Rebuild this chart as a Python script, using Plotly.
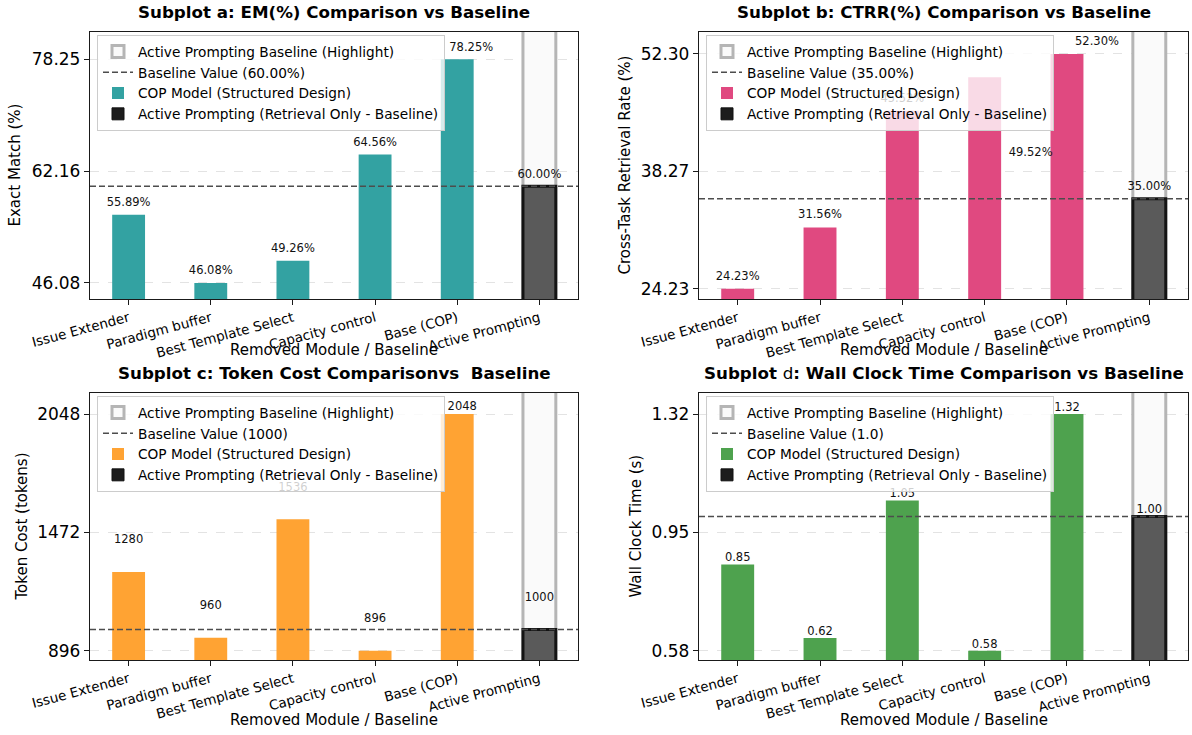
import plotly.graph_objects as go

# ---- data -------------------------------------------------------------
categories = ["Issue Extender", "Paradigm buffer", "Best Template Select",
              "Capacity control", "Base (COP)", "Active Prompting"]

em_values = [55.89, 46.08, 49.26, 64.56, 78.25]
em_baseline = 60.00

ctrr_values = [24.23, 31.56, 45.52, 49.52, 52.30]
ctrr_baseline = 35.00

token_values = [1280, 960, 1536, 896, 2048]
token_baseline = 1000

time_values = [0.85, 0.62, 1.05, 0.58, 1.32]
time_baseline = 1.00

panel_titles = [
    "<b>Subplot a: EM(%) Comparison vs Baseline</b>",
    "<b>Subplot b: CTRR(%) Comparison vs Baseline</b>",
    "<b>Subplot c: Token Cost Comparisonvs  Baseline</b>",
    "<b>Subplot </b>d<b>: Wall Clock Time Comparison vs Baseline</b>",
]
y_titles = ["Exact Match (%)", "Cross-Task Retrieval Rate (%)",
            "Token Cost (tokens)", "Wall Clock Time (s)"]
x_title = "Removed Module / Baseline"

# ---- figure geometry (pixels) ------------------------------------------
W, H = 1192, 735
FONT = "DejaVu Sans"
cols_px = [(90, 578), (699, 1188)]
rows_px = [(32, 299), (393, 660)]
X_LO, X_HI = -0.47, 5.47

# labels nudged sideways (px) so they clear the legend box
label_nudge = {
    (0, 4): (14, 0),
    (1, 3): (46, 88),
    (1, 4): (30, 0),
    (2, 4): (5, 0),
}

panels = [
    dict(values=em_values, base=em_baseline, color="#33A2A2",
         lab=lambda v: f"{v:.2f}%", tick=lambda v: f"{v:.2f}",
         leg=f"Baseline Value ({em_baseline:.2f}%)", lift_px=11.5,
         ytitle_x=15, xtitle_y=350),
    dict(values=ctrr_values, base=ctrr_baseline, color="#E04980",
         lab=lambda v: f"{v:.2f}%", tick=lambda v: f"{v:.2f}",
         leg=f"Baseline Value ({ctrr_baseline:.2f}%)", lift_px=12,
         ytitle_x=625, xtitle_y=350),
    dict(values=token_values, base=token_baseline, color="#FFA333",
         lab=lambda v: f"{v:.0f}", tick=lambda v: f"{v:.0f}",
         leg=f"Baseline Value ({token_baseline})", lift_px=None,
         ytitle_x=21, xtitle_y=720),
    dict(values=time_values, base=time_baseline, color="#4EA24E",
         lab=lambda v: f"{v:.2f}", tick=lambda v: f"{v:.2f}",
         leg=f"Baseline Value ({time_baseline:.1f})", lift_px=6,
         ytitle_x=635, xtitle_y=720),
]

fig = go.Figure()
layout = dict(
    width=W, height=H, margin=dict(l=0, r=0, t=0, b=0),
    paper_bgcolor="white", plot_bgcolor="white",
    barmode="overlay", font=dict(family=FONT, color="black"),
    annotations=[], shapes=[],
)

n_cop = len(categories) - 1
x_cop = list(range(n_cop))
x_ap = n_cop

for i, p in enumerate(panels):
    r, c = divmod(i, 2)
    sfx = "" if i == 0 else str(i + 1)
    xa, ya = "x" + sfx, "y" + sfx
    leg = "legend" + sfx
    (x0p, x1p), (y0p, y1p) = cols_px[c], rows_px[r]

    vals = p["values"]
    vmin, vmax = min(vals), max(vals)
    y_lo, y_hi = vmin * 0.95, vmax * 1.05
    per_px = (y_hi - y_lo) / (y1p - y0p)
    x_per_px = (X_HI - X_LO) / (x1p - x0p)

    # highlight column behind the baseline method
    fig.add_trace(go.Bar(
        x=[x_ap], y=[y_hi * 1.5], width=0.4, xaxis=xa, yaxis=ya,
        marker=dict(color="#FAFAFA", line=dict(color="#B5B5B5", width=3)),
        name="Active Prompting Baseline (Highlight)", legend=leg,
        legendrank=1, hoverinfo="skip"))
    # ablation bars
    fig.add_trace(go.Bar(
        x=x_cop, y=vals, width=0.4, xaxis=xa, yaxis=ya,
        marker=dict(color=p["color"], line=dict(width=0)),
        name="COP Model (Structured Design)", legend=leg, legendrank=3))
    # baseline method bar
    fig.add_trace(go.Bar(
        x=[x_ap], y=[p["base"]], width=0.4, xaxis=xa, yaxis=ya,
        marker=dict(color="#5A5A5A", line=dict(color="#141414", width=3)),
        showlegend=False, hoverinfo="skip"))
    # legend entry for the baseline method (solid dark swatch)
    fig.add_trace(go.Bar(
        x=[x_ap], y=[0], width=0.4, xaxis=xa, yaxis=ya,
        marker=dict(color="#1C1C1C", line=dict(color="#111111", width=1)),
        name="Active Prompting (Retrieval Only - Baseline)", legend=leg,
        legendrank=4, hoverinfo="skip"))

    # value labels
    lab_x, lab_y, lab_t = [], [], []
    for k, v in enumerate(vals + [p["base"]]):
        xk = k if k < n_cop else x_ap
        if p["lift_px"] is None:
            lift = 0.075 * vmax
            if v + lift > y_hi:
                lift = 7 * per_px
        else:
            lift = p["lift_px"] * per_px
        dx, dy = label_nudge.get((i, k), (0, 0))
        lab_x.append(xk + dx * x_per_px)
        lab_y.append(v + lift - dy * per_px)
        lab_t.append(p["lab"](v))
    fig.add_trace(go.Scatter(
        x=lab_x, y=lab_y, text=lab_t, mode="text", xaxis=xa, yaxis=ya,
        textposition="middle center", cliponaxis=False,
        textfont=dict(family=FONT, size=11.5, color="#111111"),
        showlegend=False, hoverinfo="skip"))

    # baseline reference line
    layout["shapes"].append(dict(
        type="line", xref=xa + " domain", yref=ya, x0=0, x1=1,
        y0=p["base"], y1=p["base"],
        line=dict(color="#4D4D4D", width=1.5, dash="6px,3px"),
        showlegend=True, name=p["leg"], legend=leg, legendrank=2))

    yticks = [vmin, (vmin + vmax) / 2, vmax]
    axis_common = dict(showline=True, linecolor="#1A1A1A", linewidth=1.3,
                       mirror=True, ticks="outside", ticklen=5, tickwidth=1.1,
                       tickcolor="#1A1A1A", zeroline=False, automargin=False)
    layout["xaxis" + sfx] = dict(
        axis_common, domain=[x0p / W, x1p / W], anchor=ya,
        range=[X_LO, X_HI], tickvals=list(range(len(categories))),
        ticktext=categories, tickangle=-15, showgrid=False,
        tickfont=dict(family=FONT, size=13.5))
    layout["yaxis" + sfx] = dict(
        axis_common, domain=[1 - y1p / H, 1 - y0p / H], anchor=xa,
        range=[y_lo, y_hi], tickvals=yticks,
        ticktext=[p["tick"](t) for t in yticks],
        showgrid=True, gridcolor="#E3E3E3", gridwidth=1, griddash="dash",
        tickfont=dict(family=FONT, size=17))

    layout[leg] = dict(
        x=(x0p + 7) / W, y=1 - (y0p + 3) / H, xanchor="left", yanchor="top",
        bgcolor="rgba(255,255,255,0.8)", bordercolor="#CCCCCC",
        borderwidth=1, font=dict(family=FONT, size=13.7),
        traceorder="normal", tracegroupgap=0)

    # titles
    layout["annotations"].append(dict(
        text=panel_titles[i], x=(x0p + x1p) / 2 / W,
        y=1 - (y0p - 20) / H, xref="paper", yref="paper",
        xanchor="center", yanchor="middle", showarrow=False,
        font=dict(family=FONT, size=16.7)))
    layout["annotations"].append(dict(
        text=x_title, x=(x0p + x1p) / 2 / W, y=1 - p["xtitle_y"] / H,
        xref="paper", yref="paper", xanchor="center", yanchor="middle",
        showarrow=False, font=dict(family=FONT, size=15)))
    layout["annotations"].append(dict(
        text=y_titles[i], x=p["ytitle_x"] / W, y=1 - (y0p + y1p) / 2 / H,
        xref="paper", yref="paper", xanchor="center", yanchor="middle",
        textangle=-90, showarrow=False, font=dict(family=FONT, size=15)))

fig.update_layout(**layout)
fig.write_html("out.html")
